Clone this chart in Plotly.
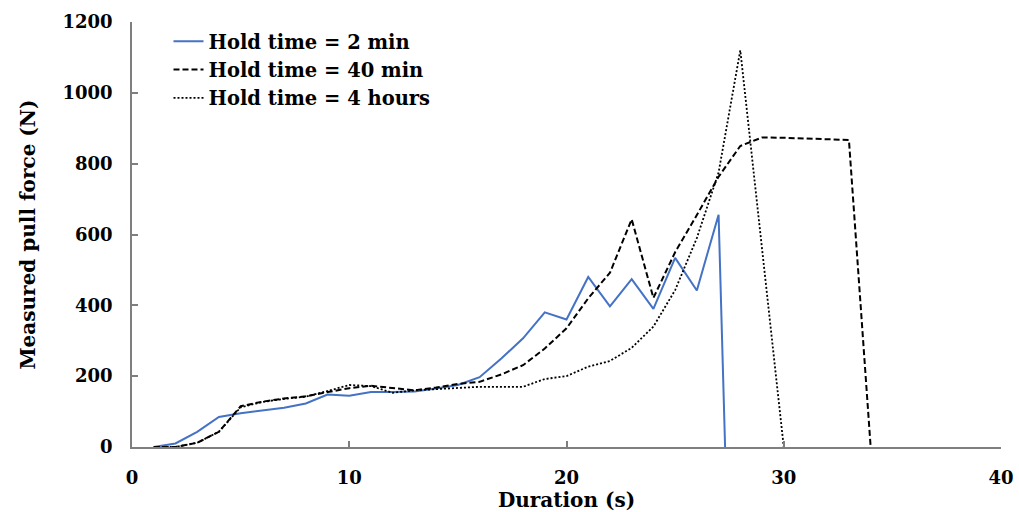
import plotly.graph_objects as go

# Hold time = 2 min
t_2min = [1, 2, 3, 4, 5, 6, 7, 8, 9, 10, 11, 12, 13, 14, 15, 16, 17, 18, 19, 20,
          21, 22, 23, 24, 25, 26, 27, 27.3]
f_2min = [0, 10, 43, 85, 95, 103, 111, 123, 148, 145, 155, 155, 157, 165, 175, 197, 250, 307, 380, 360,
          480, 397, 474, 390, 534, 442, 656, 0]

# Hold time = 40 min
t_40min = [1, 2, 3, 4, 5, 6, 7, 8, 9, 10, 11, 12, 13, 14, 15, 16, 17, 18, 19, 20,
           21, 22, 23, 24, 25, 26, 27, 28, 29, 30, 31, 32, 33, 34]
f_40min = [0, 0, 12, 43, 115, 128, 137, 143, 155, 166, 173, 167, 160, 168, 178, 184, 205, 231, 278, 335,
           420, 492, 643, 421, 550, 655, 763, 850, 874, 873, 871, 868, 867, 0]

# Hold time = 4 hours
t_4h = [1, 2, 3, 4, 5, 6, 7, 8, 9, 10, 11, 12, 13, 14, 15, 16, 17, 18, 19, 20,
        21, 22, 23, 24, 25, 26, 27, 28, 30]
f_4h = [0, 0, 12, 43, 112, 127, 136, 142, 158, 175, 172, 153, 160, 163, 168, 170, 170, 170, 192, 200,
        227, 243, 280, 340, 443, 590, 775, 1120, 0]

series_names = ["Hold time = 2 min", "Hold time = 40 min", "Hold time = 4 hours"]

x_ticks = [0, 10, 20, 30, 40]
y_ticks = [0, 200, 400, 600, 800, 1000, 1200]

FONT = "DejaVu Serif"

fig = go.Figure()
fig.add_trace(go.Scatter(x=t_2min, y=f_2min, mode="lines", name=series_names[0],
                         line=dict(color="#4472C4", width=2)))
fig.add_trace(go.Scatter(x=t_40min, y=f_40min, mode="lines", name=series_names[1],
                         line=dict(color="black", width=2, dash="6px,3px")))
fig.add_trace(go.Scatter(x=t_4h, y=f_4h, mode="lines", name=series_names[2],
                         line=dict(color="black", width=1.8, dash="2px,2px")))

fig.update_layout(
    width=1019, height=512,
    margin=dict(l=132, r=18, t=22, b=65),
    paper_bgcolor="white", plot_bgcolor="white",
    font=dict(family=FONT, color="black", size=18, weight="bold"),
    showlegend=True,
    legend=dict(x=0.042, y=1.0, xanchor="left", yanchor="top",
                bgcolor="rgba(0,0,0,0)", font=dict(family=FONT, size=19.5, weight="bold"),
                tracegroupgap=0, itemwidth=30),
)
fig.update_xaxes(
    range=[0, 40], tickvals=x_ticks, ticktext=[str(v) for v in x_ticks],
    showgrid=False, zeroline=False, showline=True, linecolor="#7f7f7f", linewidth=1.5,
    ticks="inside", ticklen=6, tickcolor="#7f7f7f", tickwidth=1.5,
    ticklabelstandoff=14, automargin=False,
    tickfont=dict(family=FONT, size=18, weight="bold"),
    title=dict(text="Duration (s)", font=dict(family=FONT, size=20, weight="bold"), standoff=6),
)
fig.update_yaxes(
    range=[0, 1200], tickvals=y_ticks, ticktext=[str(v) for v in y_ticks],
    showgrid=False, zeroline=False, showline=True, linecolor="#7f7f7f", linewidth=1.5,
    ticks="inside", ticklen=6, tickcolor="#7f7f7f", tickwidth=1.5,
    ticklabelstandoff=14, automargin=False,
    tickfont=dict(family=FONT, size=18, weight="bold"),
    title=dict(text="Measured pull force (N)", font=dict(family=FONT, size=20, weight="bold"), standoff=22),
)

fig.write_html("out.html")
